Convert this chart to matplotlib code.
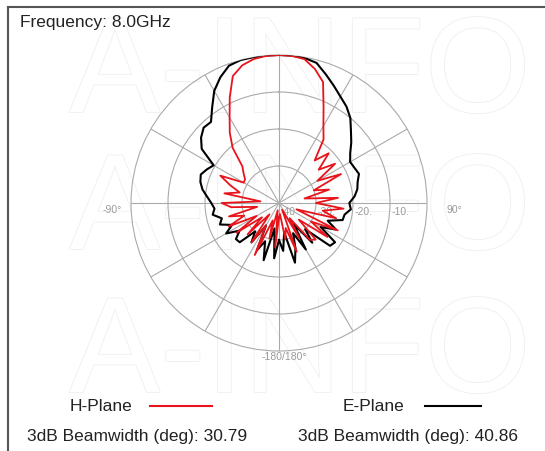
import numpy as np
import matplotlib.pyplot as plt
from matplotlib.lines import Line2D
import matplotlib.patheffects as pe

plt.rcParams['font.family'] = ['Liberation Sans', 'DejaVu Sans']

# angles in degrees (clockwise from boresight), gain in dB
angles_deg = list(range(-180, 181, 5))

h_plane = [-36, -28, -38, -30, -35, -24.5, -33, -27, -36, -28,
           -34, -26, -33, -25, -30, -26, -34, -27, -24.5, -35,
           -25, -29, -26, -22.5, -29, -28.8, -27.5, -26, -20.5, -16.8,
           -13.3, -8.5, -3.5, -1.5, -0.5, -0.1, 0, -0.1, -0.5, -2.5,
           -5.2, -11.5, -16, -19, -25, -21, -26, -21.5, -28, -21.5,
           -30, -26, -33, -24, -30, -22.5, -28, -24, -35, -22.5,
           -30, -24, -33, -26, -27, -35, -29, -38, -26, -33,
           -30, -37, -36]

e_plane = [-30, -25, -33, -24, -29, -26, -33, -27, -30, -25,
           -24.8, -27, -23.5, -26, -23, -24, -21.8, -22.5, -21.7, -20.5,
           -19, -18, -17.5, -18.5, -19.6, -14.5, -12.5, -11.2, -11.4, -8.5,
           -5, -2.5, -0.5, 0, 0, 0, 0, 0, -0.2, -0.8,
           -3, -5, -6.8, -8.2, -10, -12.5, -14.5, -16.5, -17.8, -17.5,
           -17, -18, -18.5, -19.5, -21, -20.5, -22, -22.2, -26, -23,
           -27, -21.5, -22, -30, -26, -33, -25.5, -31, -27, -23.3,
           -32, -27, -30]

ring_labels = ['-40', '-30.', '-20.', '-10.']
ring_values = [-40, -30, -20, -10]

W, H = 545, 452
fig = plt.figure(figsize=(W / 100, H / 100), dpi=100)

def fx(x):
    return x / W

def fy(y):
    return 1 - y / H

# faint watermark behind everything
for wy in [78, 215, 358]:
    fig.text(fx(300), fy(wy), 'A-INFO', fontsize=98, color='white',
             ha='center', va='center', zorder=-5,
             path_effects=[pe.Stroke(linewidth=1.2, foreground='#efefef'), pe.Normal()])

cx, cy, R = 279, 204, 148
ax = fig.add_axes([fx(cx - R), fy(cy + R), 2 * R / W, 2 * R / H], polar=True)
ax.set_zorder(2)
ax.patch.set_alpha(0)
ax.set_theta_zero_location('N')
ax.set_theta_direction(-1)
ax.set_rlim(-40, 0)
ax.set_rticks([-30, -20, -10])
ax.set_thetagrids(np.arange(0, 360, 30))
ax.set_xticklabels([])
ax.set_yticklabels([])
ax.grid(color='#aaaaaa', linewidth=0.8)
ax.spines['polar'].set_color('#aaaaaa')
ax.spines['polar'].set_linewidth(0.8)

th = np.deg2rad(angles_deg)
ax.plot(th, e_plane, color='black', linewidth=1.5, zorder=3)
ax.plot(th, h_plane, color='#e8141b', linewidth=1.3, zorder=4)

# ring labels along 90 deg
for lab, v in zip(ring_labels, ring_values):
    rpx = (v + 40) / 40 * R
    fig.text(fx(cx + rpx + 2), fy(cy + 8), lab, fontsize=7.5, color='#9a9a9a',
             ha='left', va='center', zorder=1)

fig.text(fx(112), fy(210), '-90°', fontsize=7.5, color='#9a9a9a', ha='center', va='center')
fig.text(fx(454), fy(210), '90°', fontsize=7.5, color='#9a9a9a', ha='center', va='center')
fig.text(fx(284), fy(357), '-180/180°', fontsize=7.5, color='#9a9a9a', ha='center', va='center')

# frame
fig.add_artist(Line2D([fx(8), fx(545)], [fy(8), fy(8)], color='#555555', linewidth=1.5))
fig.add_artist(Line2D([fx(8), fx(8)], [fy(8), fy(452)], color='#555555', linewidth=1.5))

fig.text(fx(20), fy(23), 'Frequency: 8.0GHz', fontsize=12.5, color='#222222', ha='left', va='center')

fig.text(fx(70), fy(407), 'H-Plane', fontsize=12.5, color='#222222', ha='left', va='center')
fig.add_artist(Line2D([fx(150), fx(212)], [fy(407), fy(407)], color='#e8141b', linewidth=1.5))
fig.text(fx(343), fy(407), 'E-Plane', fontsize=12.5, color='#222222', ha='left', va='center')
fig.add_artist(Line2D([fx(425), fx(481)], [fy(407), fy(407)], color='black', linewidth=1.5))

fig.text(fx(27), fy(437), '3dB Beamwidth (deg): 30.79', fontsize=12.5, color='#222222', ha='left', va='center')
fig.text(fx(298), fy(437), '3dB Beamwidth (deg): 40.86', fontsize=12.5, color='#222222', ha='left', va='center')

fig.savefig('out.png', dpi=100)
